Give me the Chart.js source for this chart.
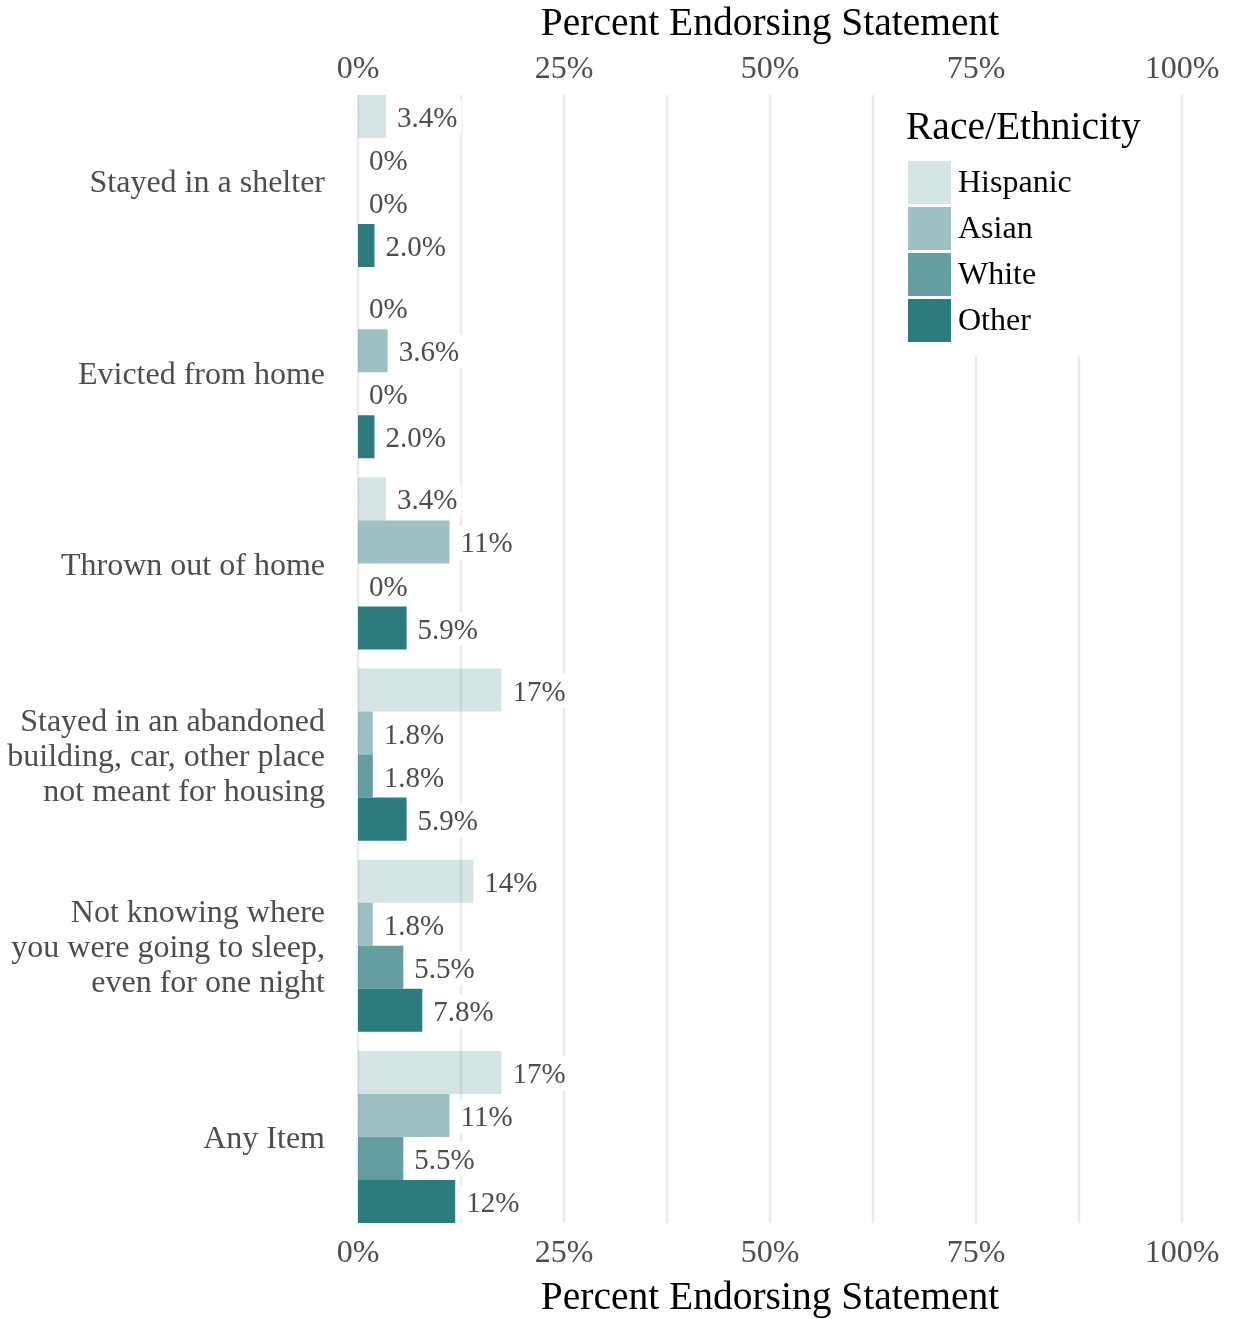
<!DOCTYPE html>
<html>
<head>
<meta charset="utf-8">
<script src="https://cdn.jsdelivr.net/npm/chart.js@4.4.0/dist/chart.umd.min.js"></script>
<style>
  html, body { margin: 0; padding: 0; background: #fff; }
  #contenedor { width: 1236px; height: 1319px; position: relative; }
</style>
</head>
<body>
<div id="contenedor"><canvas id="grafico"></canvas></div>
<script>
// Datos
const categorias = [
    'Stayed in a shelter',
    'Evicted from home',
    'Thrown out of home',
    ['Stayed in an abandoned', 'building, car, other place', 'not meant for housing'],
    ['Not knowing where', 'you were going to sleep,', 'even for one night'],
    'Any Item'
];
const grupos = ['Hispanic', 'Asian', 'White', 'Other'];
const hispanos = [3.4, 0, 3.4, 17.4, 14.0, 17.4];
const asiaticos = [0, 3.6, 11.1, 1.8, 1.8, 11.1];
const blancos = [0, 0, 0, 1.8, 5.5, 5.5];
const otros = [2.0, 2.0, 5.9, 5.9, 7.8, 11.8];
const tituloEje = 'Percent Endorsing Statement';
const tituloLeyenda = 'Race/Ethnicity';

// mismo verde azulado con distinta opacidad
const alfas = [0.2, 0.467, 0.733, 1];
const colores = alfas.map(a => `rgba(44, 123, 125, ${a})`);
const series = [hispanos, asiaticos, blancos, otros];

const fuente = '"Liberation Serif", "Times New Roman", serif';
Chart.defaults.font.family = fuente;

const etiqueta = (v) => v === 0 ? '0%' : (v >= 10 ? Math.round(v) : v.toFixed(1)) + '%';

const rejilla = {
    id: 'rejilla',
    beforeDatasetsDraw(chart) {
        const { ctx, scales: { x, y } } = chart;
        const banda = y.getPixelForValue(1) - y.getPixelForValue(0);
        const arriba = y.getPixelForValue(0) - banda * 0.45;
        const abajo = y.getPixelForValue(categorias.length - 1) + banda * 0.45;
        ctx.save();
        ctx.strokeStyle = '#ebebeb';
        ctx.lineWidth = 2.5;
        for (let v = 0; v <= 100; v += 12.5) {
            const px = x.getPixelForValue(v);
            ctx.beginPath();
            ctx.moveTo(px, arriba);
            ctx.lineTo(px, abajo);
            ctx.stroke();
        }
        // fondo blanco de la leyenda
        ctx.fillStyle = '#fff';
        ctx.fillRect(892, arriba - 2, 270, 356 - arriba + 2);
        ctx.restore();
    }
};

const etiquetas = {
    id: 'etiquetas',
    afterDatasetsDraw(chart) {
        const { ctx } = chart;
        ctx.save();
        ctx.font = `29px ${fuente}`;
        ctx.textBaseline = 'middle';
        ctx.textAlign = 'left';
        chart.data.datasets.forEach((ds, i) => {
            chart.getDatasetMeta(i).data.forEach((barra, j) => {
                const texto = etiqueta(ds.data[j]);
                const ancho = ctx.measureText(texto).width;
                const x0 = barra.x + 5;
                ctx.fillStyle = '#fff';
                ctx.fillRect(x0, barra.y - 16, ancho + 10, 34);
                ctx.fillStyle = '#4d4d4d';
                ctx.fillText(texto, x0 + 6, barra.y + 3);
            });
        });
        ctx.restore();
    }
};

const leyenda = {
    id: 'leyenda',
    afterDraw(chart) {
        const { ctx } = chart;
        ctx.save();
        ctx.textBaseline = 'middle';
        ctx.textAlign = 'left';
        ctx.fillStyle = '#000';
        ctx.font = `39.5px ${fuente}`;
        ctx.fillText(tituloLeyenda, 906, 129);
        ctx.font = `32px ${fuente}`;
        grupos.forEach((g, i) => {
            const y0 = 161 + i * 46;
            ctx.fillStyle = colores[i];
            ctx.fillRect(908, y0, 43, 43);
            ctx.fillStyle = '#000';
            ctx.fillText(g, 958, y0 + 23);
        });
        ctx.restore();
    }
};

const ejeX = (posicion, alto) => ({
    type: 'linear',
    position: posicion,
    min: 0,
    max: 100,
    grid: { display: false, drawTicks: false },
    border: { display: false },
    ticks: {
        stepSize: 25,
        padding: posicion === 'top' ? -2 : 3,
        color: '#4d4d4d',
        font: { size: 32, lineHeight: 1.1 },
        maxRotation: 0,
        callback: v => v + '%'
    },
    title: {
        display: true,
        text: tituloEje,
        color: '#000',
        font: { size: 39.5, lineHeight: 1.15 },
        padding: posicion === 'top' ? { top: 2 } : { bottom: -2 }
    },
    afterFit(escala) { escala.height = alto; }
});

new Chart(document.getElementById('grafico').getContext('2d'), {
    type: 'bar',
    data: {
        labels: categorias,
        datasets: grupos.map((g, i) => ({
            label: g,
            data: series[i],
            backgroundColor: colores[i],
            borderWidth: 0,
            barPercentage: 1.0,
            categoryPercentage: 0.9,
            xAxisID: 'x'
        }))
    },
    options: {
        indexAxis: 'y',
        responsive: true,
        maintainAspectRatio: false,
        animation: false,
        layout: { padding: { left: 0, right: 54, top: 0, bottom: 0 } },
        plugins: {
            legend: { display: false },
            tooltip: { enabled: false }
        },
        scales: {
            x: ejeX('top', 85.4),
            x2: ejeX('bottom', 86.4),
            y: {
                grid: { display: false, drawTicks: false },
                border: { display: false },
                ticks: {
                    padding: 33,
                    labelOffset: 3,
                    color: '#4d4d4d',
                    font: { size: 32, lineHeight: 1.1 }
                },
                afterFit(escala) { escala.width = 358; }
            }
        }
    },
    plugins: [rejilla, etiquetas, leyenda]
});
</script>
</body>
</html>
